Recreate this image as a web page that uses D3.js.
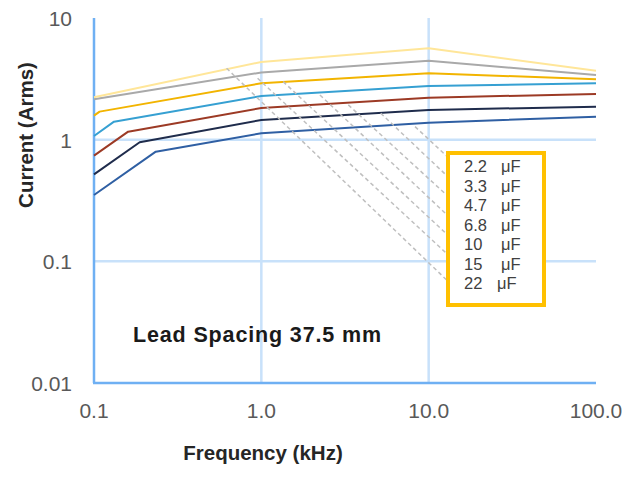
<!DOCTYPE html>
<html>
<head>
<meta charset="utf-8">
<script src="https://cdn.jsdelivr.net/npm/d3@7"></script>
<style>
  html, body { margin: 0; padding: 0; background: #ffffff; }
  svg { display: block; font-family: "Liberation Sans", Arial, sans-serif; }
</style>
</head>
<body>
<div id="chart"></div>
<script>
// Ёмкости (подписи в легенде, сверху вниз)
const caps = ['2.2', '3.3', '4.7', '6.8', '10', '15', '22']
const colors = ['#2f5fa3', '#1f2c4c', '#9c3a25', '#36a0d2', '#f2b400', '#a9a9a9', '#ffe699']

// Частота (кГц) и ток (Arms) для каждой кривой
const f2u2 = [0.1, 0.234, 1, 10, 100]
const a2u2 = [0.351, 0.797, 1.13, 1.38, 1.545]
const f3u3 = [0.1, 0.1875, 1, 10, 100]
const a3u3 = [0.519, 0.952, 1.452, 1.754, 1.867]
const f4u7 = [0.1, 0.16, 1, 10, 100]
const a4u7 = [0.739, 1.163, 1.822, 2.214, 2.375]
const f6u8 = [0.1, 0.1317, 1, 10, 100]
const a6u8 = [1.072, 1.406, 2.286, 2.763, 2.908]
const f10u = [0.1, 0.108, 1, 10, 100]
const a10u = [1.575, 1.70, 2.908, 3.513, 3.136]
const f15u = [0.1, 1, 10, 100]
const a15u = [2.148, 3.567, 4.458, 3.402]
const f22u = [0.1, 1, 10, 100]
const a22u = [2.231, 4.351, 5.639, 3.69]

// Точки, к которым идут выноски подписей
const labelFreq = [8.29, 5.17, 3.31, 2.24, 1.35, 0.95, 0.62]
const labelAmps = [1.28, 1.65, 1.93, 2.33, 3.0, 3.20, 3.86]

// Деления осей
const xTicks = [0.1, 1, 10, 100]
const xTickLabels = ['0.1', '1.0', '10.0', '100.0']
const yTicks = [0.01, 0.1, 1, 10]
const yTickLabels = ['0.01', '0.1', '1', '10']

const series = [
    [f2u2, a2u2], [f3u3, a3u3], [f4u7, a4u7], [f6u8, a6u8],
    [f10u, a10u], [f15u, a15u], [f22u, a22u]
].map((s, i) => ({ cap: caps[i], color: colors[i], pts: s[0].map((f, j) => [f, s[1][j]]) }))

const W = 640, H = 481

let root = d3.select('#chart')
    .append('svg')
    .attr('width', W)
    .attr('height', H)

root.append('rect').attr('width', W).attr('height', H).attr('fill', '#ffffff')

const x = d3.scaleLog().domain([0.1, 100]).range([94, 596])
const y = d3.scaleLog().domain([0.01, 10]).range([383, 18])

// сетка
root.append('g')
    .selectAll('line')
    .data([1, 10])
    .join('line')
    .attr('x1', d => x(d)).attr('x2', d => x(d))
    .attr('y1', y(10)).attr('y2', y(0.01))
    .attr('stroke', '#c8e1fa').attr('stroke-width', 2.5)

root.append('g')
    .selectAll('line')
    .data([0.1, 1])
    .join('line')
    .attr('x1', x(0.1)).attr('x2', x(100))
    .attr('y1', d => y(d)).attr('y2', d => y(d))
    .attr('stroke', '#c8e1fa').attr('stroke-width', 2.5)

// оси
root.append('line')
    .attr('x1', x(0.1)).attr('x2', x(0.1))
    .attr('y1', y(10)).attr('y2', y(0.01))
    .attr('stroke', '#6fb0f3').attr('stroke-width', 2.5)
root.append('line')
    .attr('x1', x(0.1) - 1).attr('x2', x(100))
    .attr('y1', y(0.01)).attr('y2', y(0.01))
    .attr('stroke', '#6fb0f3').attr('stroke-width', 2.5)

// подписи делений
root.append('g')
    .selectAll('text')
    .data(xTicks)
    .join('text')
    .attr('x', d => x(d))
    .attr('y', 418)
    .attr('text-anchor', 'middle')
    .attr('font-size', 21)
    .attr('fill', '#595959')
    .text((d, i) => xTickLabels[i])

root.append('g')
    .selectAll('text')
    .data(yTicks)
    .join('text')
    .attr('x', 72)
    .attr('y', d => y(d) + 8)
    .attr('text-anchor', 'end')
    .attr('font-size', 21)
    .attr('fill', '#595959')
    .text((d, i) => yTickLabels[i])

// заголовки осей
root.append('text')
    .attr('transform', 'translate(33,135) rotate(-90)')
    .attr('text-anchor', 'middle')
    .attr('font-size', 20.5)
    .attr('font-weight', 'bold')
    .attr('fill', '#262626')
    .text('Current (Arms)')

root.append('text')
    .attr('x', 263)
    .attr('y', 460)
    .attr('text-anchor', 'middle')
    .attr('font-size', 20.5)
    .attr('font-weight', 'bold')
    .attr('fill', '#262626')
    .text('Frequency (kHz)')

root.append('text')
    .attr('x', 133)
    .attr('y', 341.5)
    .attr('font-size', 21.5)
    .attr('font-weight', 'bold')
    .attr('fill', '#1a1a1a')
    .attr('textLength', 248)
    .attr('lengthAdjust', 'spacing')
    .text('Lead Spacing 37.5 mm')

// кривые
const line = d3.line().x(d => x(d[0])).y(d => y(d[1]))

root.append('g')
    .selectAll('path')
    .data(series)
    .join('path')
    .attr('d', d => line(d.pts))
    .attr('fill', 'none')
    .attr('stroke', d => d.color)
    .attr('stroke-width', 2)
    .attr('stroke-linejoin', 'round')

// легенда-подписи с выносками
const box = { x: 448, y: 153, w: 96, h: 152 }
const rowY = i => 172.3 + i * 19.5

root.append('g')
    .selectAll('line')
    .data(caps)
    .join('line')
    .attr('x1', (d, i) => x(labelFreq[i]))
    .attr('y1', (d, i) => y(labelAmps[i]))
    .attr('x2', box.x)
    .attr('y2', (d, i) => rowY(i) - (i === caps.length - 1 ? 8 : 15))
    .attr('stroke', '#bfbfbf')
    .attr('stroke-width', 1.5)
    .attr('stroke-dasharray', '4,3')

root.append('rect')
    .attr('x', box.x).attr('y', box.y)
    .attr('width', box.w).attr('height', box.h)
    .attr('fill', '#ffffff')
    .attr('stroke', '#ffc000')
    .attr('stroke-width', 4)

let labels = root.append('g')
    .selectAll('g')
    .data(caps)
    .join('g')
    .attr('font-size', 16.5)
    .attr('fill', '#404040')

labels.append('text')
    .attr('x', 464)
    .attr('y', (d, i) => rowY(i))
    .text(d => d)
labels.append('text')
    .attr('x', (d, i) => i === caps.length - 1 ? 497 : 501)
    .attr('y', (d, i) => rowY(i))
    .text('μF')
</script>
</body>
</html>
